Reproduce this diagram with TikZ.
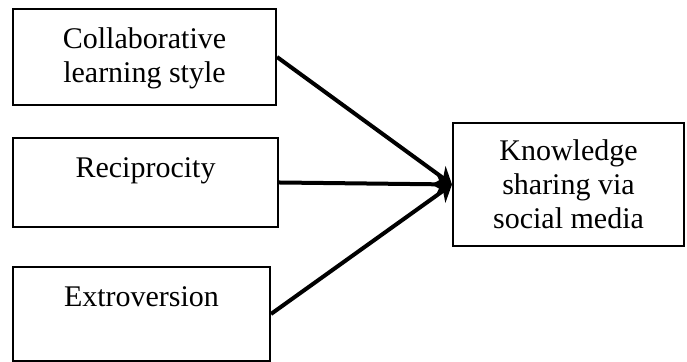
\documentclass[tikz,border=0pt]{standalone}
\usepackage{fontspec}
\setmainfont{Liberation Serif}
\usetikzlibrary{arrows.meta}
\tikzset{
	factor/.style={draw, line width=1pt, rectangle, inner sep=0pt},
	factortext/.style={inner sep=0pt, align=center, font=\fontsize{15pt}{17pt}\selectfont},
	link/.style={line width=2pt, -{Stealth[length=8pt, width=11pt, inset=2.5pt]}}
}

\begin{document}
\begin{tikzpicture}[x=0.5pt, y=0.5pt]
			%%%%% START %%%%%
			
			\useasboundingbox (0, 0) rectangle (687, 362);
			
			\node[factor, minimum width=131.5pt, minimum height=48pt] (collab) at (144.5, 305) {};
			\node[factortext, anchor=north] (collabtext) at ([yshift=-9.5pt]collab.north) {Collaborative\\learning style};
			
			\node[factor, minimum width=132.5pt, minimum height=44.5pt] (recip) at (145.5, 179.5) {};
			\node[factortext, anchor=north] (reciptext) at ([yshift=-10pt]recip.north) {Reciprocity};
			
			\node[factor, minimum width=128.5pt, minimum height=47pt] (extro) at (141.5, 48) {};
			\node[factortext, anchor=north] (extrotext) at ([yshift=-10pt]extro.north) {Extroversion};
			
			\node[factor, factortext, draw, line width=1pt, minimum width=115.5pt, minimum height=61.5pt] (knowledge) at (568.5, 177.5) {Knowledge\\sharing via\\social media};
			
			\draw[link] (collab.east) -- (knowledge.west);
			\draw[link] (recip.east) -- (knowledge.west);
			\draw[link] (extro.east) -- (knowledge.west);
			
			%%%%% END %%%%%
		\end{tikzpicture}
\end{document}
